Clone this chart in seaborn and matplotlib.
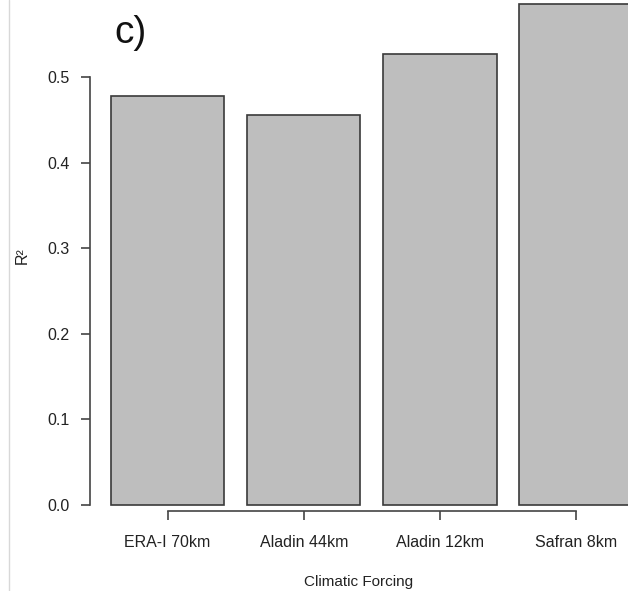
import matplotlib
matplotlib.use("Agg")
import matplotlib.pyplot as plt
from matplotlib.lines import Line2D
import seaborn as sns

sns.set_style("white")
plt.rcParams['font.family'] = ['Liberation Sans', 'DejaVu Sans']

# Data
forcing = ["ERA-I 70km", "Aladin 44km", "Aladin 12km", "Safran 8km"]
r2 = [0.478, 0.456, 0.527, 0.585]
y_ticks = [0.0, 0.1, 0.2, 0.3, 0.4, 0.5]

W, H = 628, 591
fig = plt.figure(figsize=(W / 100, H / 100), dpi=100)

# axes box in pixels: left at y-axis line, bottom at x-axis line
left_px, bottom_px = 90, 511
ax = fig.add_axes([left_px / W, (H - bottom_px) / H, (W - left_px) / W, bottom_px / H])

sns.barplot(x=forcing, y=r2, color="#BEBEBE", edgecolor="#3a3a3a",
            linewidth=1.2, width=0.833, saturation=1, ax=ax)

# pixel scale: 136.2 px per bar slot, 856 px per unit of R2
ax.set_xlim((left_px - 167.5) / 136.2, (W - 167.5) / 136.2)
ax.set_ylim(-(bottom_px - 505) / 856, 505 / 856)

ax.spines['top'].set_visible(False)
ax.spines['right'].set_visible(False)
for s in ['left', 'bottom']:
    ax.spines[s].set_color("#444444")
    ax.spines[s].set_linewidth(1.2)
ax.spines['left'].set_bounds(0, 0.5)
ax.spines['bottom'].set_bounds(0, 3)

ax.set_yticks(y_ticks)
ax.set_yticklabels([f"{v:.1f}" for v in y_ticks])
ax.tick_params(axis='both', direction='out', length=6.5, width=1.2,
               color="#444444", labelsize=11.5, labelcolor="#222222",
               left=True, bottom=True)
ax.tick_params(axis='y', pad=8)
ax.tick_params(axis='x', pad=10.5)

ax.set_xlabel("Climatic Forcing", fontsize=11, color="#222222", labelpad=18)
ax.set_ylabel("R²", fontsize=11.5, color="#222222", labelpad=13)

fig.text(130 / W, 1 - 43 / H, "c)", fontsize=28, ha="center", va="baseline",
         color="#111111")

# thin border of the screenshot on the left
fig.add_artist(Line2D([9 / W, 9 / W], [0, 1], color="#d8d8d8", lw=1,
                      transform=fig.transFigure))

fig.savefig("out.png", dpi=100)
